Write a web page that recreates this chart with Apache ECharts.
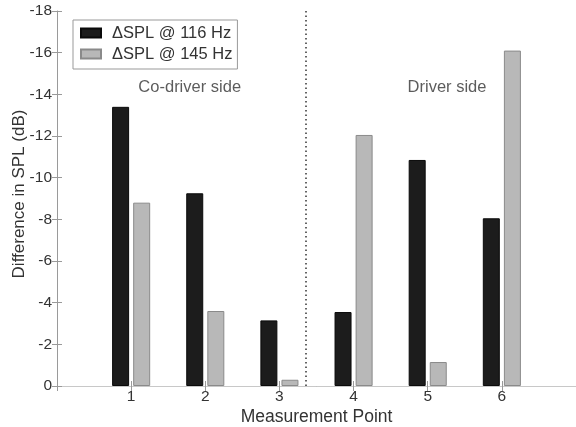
<!DOCTYPE html>
<html>
<head>
<meta charset="utf-8">
<script src="https://cdn.jsdelivr.net/npm/echarts@6/dist/echarts.min.js"></script>
<style>html,body{margin:0;padding:0;background:#fff}#c{width:576px;height:427px}</style>
</head>
<body>
<div id="c"></div>
<script>
// Data
const points = [1, 2, 3, 4, 5, 6];
const spl116 = [-13.4, -9.25, -3.15, -3.55, -10.85, -8.05];
const spl145 = [-8.8, -3.6, -0.3, -12.05, -1.15, -16.1];
const seriesNames = ['\u0394SPL @ 116 Hz', '\u0394SPL @ 145 Hz'];
const yTicks = [-18, -16, -14, -12, -10, -8, -6, -4, -2, 0];
const sideAnnotations = [
  { text: 'Co-driver side', x: 1.79, y: -14.35 },
  { text: 'Driver side', x: 5.26, y: -14.35 }
];
const dividerX = 3.5;

const FONT = 'Liberation Sans, Arial, Helvetica, sans-serif';
const chart = echarts.init(document.getElementById('c'), null, { renderer: 'canvas' });

const axisGray = '#9a9a9a';
const textCol = '#333';

chart.setOption({
  animation: false,
  backgroundColor: '#fff',
  textStyle: { fontFamily: FONT },
  grid: { left: 57, top: 11, width: 519, bottom: 41, containLabel: false, outerBoundsMode: 'none' },
  legend: {
    orient: 'vertical',
    left: 73, top: 20,
    padding: [4, 5, 6, 7],
    itemWidth: 20, itemHeight: 9, itemGap: 3,
    borderColor: '#999', borderWidth: 1,
    backgroundColor: '#fff',
    icon: 'rect',
    data: seriesNames,
    textStyle: { fontFamily: FONT, fontSize: 16.5, lineHeight: 18, color: textCol, padding: [0, 0, 0, 6] }
  },
  xAxis: [
    {
      type: 'value', min: 0, max: 7, interval: 1,
      name: 'Measurement Point', nameLocation: 'middle', nameGap: 22, nameMoveOverlap: false,
      nameTextStyle: { fontFamily: FONT, fontSize: 17.5, color: textCol },
      axisLine: { show: true, lineStyle: { color: axisGray } },
      axisTick: { show: true, inside: true, length: 5, lineStyle: { color: axisGray } },
      axisLabel: {
        fontFamily: FONT, fontSize: 15.5, color: textCol, margin: 3,
        formatter: v => points.indexOf(v) >= 0 ? String(v) : ''
      },
      splitLine: { show: false }
    },
    {
      type: 'value', min: 0, max: 7, interval: 1, position: 'top',
      axisLine: { show: true, lineStyle: { color: '#c8c8c8' } },
      axisTick: { show: true, inside: true, length: 5, lineStyle: { color: axisGray } },
      axisLabel: { show: false }, splitLine: { show: false }
    }
  ],
  yAxis: [
    {
      type: 'value', min: -18, max: 0, interval: 2, inverse: true,
      name: 'Difference in SPL (dB)', nameLocation: 'middle', nameGap: 29, nameMoveOverlap: false,
      nameTextStyle: { fontFamily: FONT, fontSize: 17, color: textCol, padding: [0, 0, 0, 9] },
      axisLine: { show: true, lineStyle: { color: axisGray } },
      axisTick: { show: true, inside: true, length: 5, lineStyle: { color: axisGray } },
      axisLabel: {
        fontFamily: FONT, fontSize: 15.5, color: textCol, margin: 5,
        formatter: v => yTicks.indexOf(v) >= 0 ? String(v) : ''
      },
      splitLine: { show: false }
    },
    {
      type: 'value', min: -18, max: 0, interval: 2, inverse: true, position: 'right',
      axisLine: { show: false },
      axisTick: { show: true, inside: true, length: 5, lineStyle: { color: axisGray } },
      axisLabel: { show: false }, splitLine: { show: false }
    }
  ],
  series: [
    {
      name: seriesNames[0], type: 'bar',
      data: points.map((p, i) => [p, spl116[i]]),
      barWidth: 17, barGap: '24%',
      itemStyle: { color: '#1c1c1c', borderColor: '#0a0a0a', borderWidth: 1 },
      markLine: {
        silent: true, symbol: 'none', label: { show: false },
        lineStyle: { color: '#333', type: [1.5, 3], width: 1.5 },
        data: [{ xAxis: dividerX }]
      }
    },
    {
      name: seriesNames[1], type: 'bar',
      data: points.map((p, i) => [p, spl145[i]]),
      barWidth: 17, barGap: '24%',
      itemStyle: { color: '#b8b8b8', borderColor: '#8a8a8a', borderWidth: 1 }
    },
    {
      type: 'scatter', symbolSize: 0, silent: true,
      data: sideAnnotations.map(a => ({ value: [a.x, a.y], name: a.text })),
      label: {
        show: true, position: 'inside', formatter: p => p.name,
        fontFamily: FONT, fontSize: 16.5, color: textCol
      },
      tooltip: { show: false }
    }
  ]
});
</script>
</body>
</html>
